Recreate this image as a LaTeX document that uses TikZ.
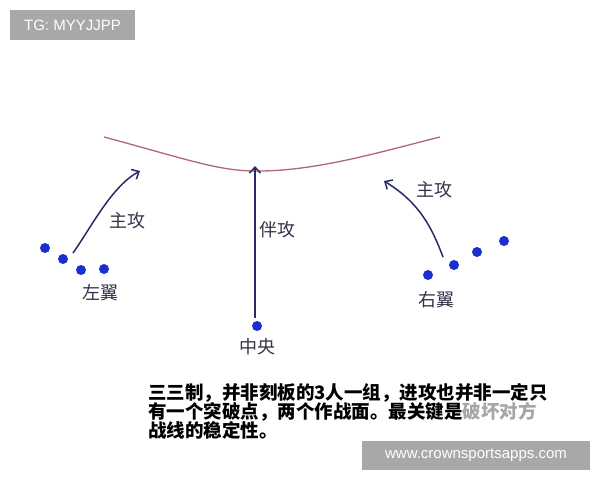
\documentclass[tikz,border=0pt]{standalone}
\usepackage{fontspec}
\setmainfont{Liberation Sans}
\newfontfamily\cjk{Noto Sans CJK SC}
\usetikzlibrary{arrows.meta}
\definecolor{dotblue}{HTML}{1B2FD0}
\definecolor{arrnavy}{HTML}{2B2B66}
\definecolor{curvered}{HTML}{B06878}
\definecolor{lbl}{HTML}{33334A}
\definecolor{wmgray}{HTML}{A8A8A8}
\tikzset{
  player/.style={circle,fill=dotblue,inner sep=0pt,minimum size=10pt},
  move/.style={draw=arrnavy,line width=1.5pt,-{Straight Barb[length=6pt,width=11pt,line width=1.5pt]}},
  lab/.style={font=\cjk\fontsize{18}{20}\selectfont,text=lbl,inner sep=0pt},
  note/.style={font=\cjk\bfseries\fontsize{18.5}{19}\selectfont,text=black,inner sep=0pt,anchor=base west},
  wm/.style={fill=wmgray,text=white,inner sep=0pt,font=\fontsize{15}{17}\selectfont}
}
\begin{document}
\begin{tikzpicture}[x=1pt,y=-1pt]
\useasboundingbox (0,0) rectangle (600,480);
\fill[white] (0,0) rectangle (600,480);
% watermarks
\node[wm,minimum width=125pt,minimum height=30pt] (tg) at (72.5,25) {TG: MYYJJPP};
\node[wm,minimum width=228pt,minimum height=29pt] (site) at (476,455) {www.crownsportsapps.com};
% defensive line
\coordinate (cl) at (104,137);
\coordinate (cr) at (440,137);
\draw[curvered,line width=1.3pt] (cl) .. controls (190,160) and (220,172) .. (262,171) .. controls (320,170) and (380,152) .. (cr);
% left wing
\node[player] (l1) at (45,248) {};
\node[player] (l2) at (63,259) {};
\node[player] (l3) at (81,270) {};
\node[player] (l4) at (104,269) {};
\coordinate (lstart) at (73,253);
\coordinate (lend) at (140,171);
\draw[move] (lstart) .. controls (92,226) and (112,186) .. (lend);
\node[lab] (lmain) at (127,221) {主攻};
\node[lab] (lwing) at (100,293) {左翼};
% centre
\node[player] (c1) at (257,326) {};
\coordinate (cstart) at (255,318);
\coordinate (cend) at (255,166);
\draw[move] (cstart) -- (cend);
\node[lab] (cmain) at (277,230) {伴攻};
\node[lab] (cwing) at (257,347) {中央};
% right wing
\node[player] (r1) at (428,275) {};
\node[player] (r2) at (454,265) {};
\node[player] (r3) at (477,252) {};
\node[player] (r4) at (504,241) {};
\coordinate (rstart) at (443,257);
\coordinate (rend) at (384,181);
\draw[move] (rstart) .. controls (432,228) and (420,203) .. (rend);
\node[lab] (rmain) at (434,190) {主攻};
\node[lab] (rwing) at (436,300) {右翼};
% note
\node[note] (n1) at (148,399) {三三制，并非刻板的3人一组，进攻也并非一定只};
\node[note] (n2) at (148,418) {有一个突破点，两个作战面。最关键是\textcolor{black!35}{破坏对方}};
\node[note] (n3) at (148,437) {战线的稳定性。};
\end{tikzpicture}
\end{document}
